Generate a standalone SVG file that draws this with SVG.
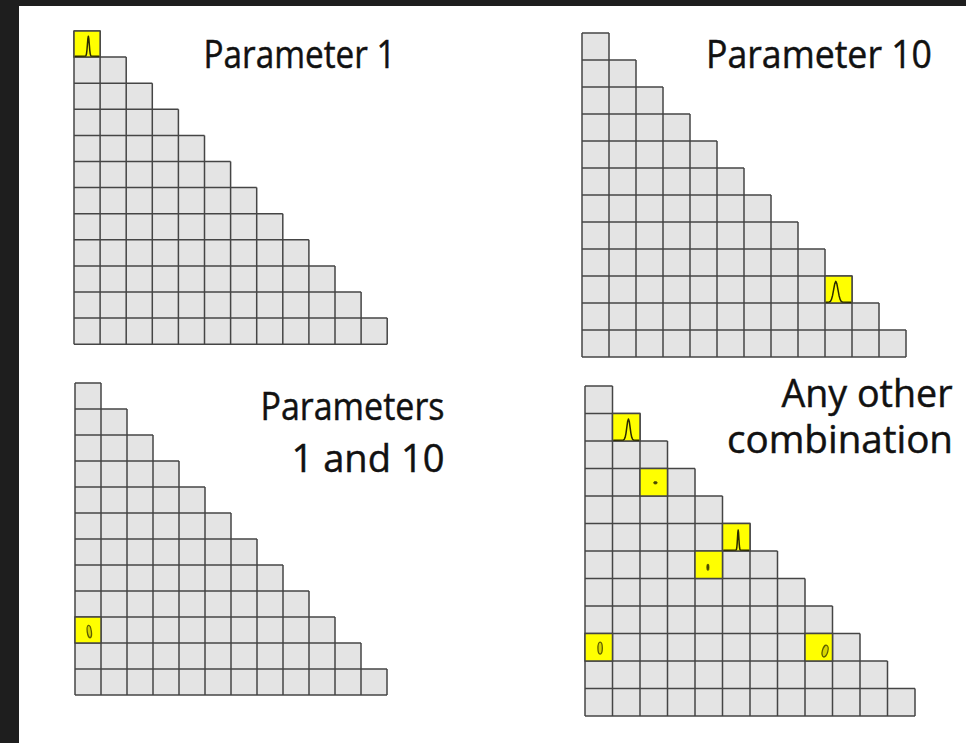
<svg xmlns="http://www.w3.org/2000/svg" xmlns:xlink="http://www.w3.org/1999/xlink" width="966" height="743" viewBox="0 0 966 743">
<style>
.bgdark{fill:#1e1e1e}
.cellfill{fill:#e4e4e4;stroke:none}
.gridline{fill:none;stroke:#454545;stroke-width:1.5;vector-effect:non-scaling-stroke}
.hl{fill:#ffff00;stroke:#454545;stroke-width:1.5;vector-effect:non-scaling-stroke}
.curve{fill:none;stroke:#2a2a00;stroke-width:1.5;stroke-linejoin:round;vector-effect:non-scaling-stroke}
.ell{fill:#d6d600;stroke:#5c5c00;stroke-width:1.3;vector-effect:non-scaling-stroke}
.dot{fill:#4a4a00;stroke:#4a4a00;stroke-width:0.8;vector-effect:non-scaling-stroke}
.lbl{font-family:"Open Sans","Liberation Sans",sans-serif;font-size:37.5px;fill:#111;stroke:#111;stroke-width:0.45px}
</style>
<defs>
<g id="tri">
<polygon class="cellfill" points="0,0 1,0 1,1 2,1 2,2 3,2 3,3 4,3 4,4 5,4 5,5 6,5 6,6 7,6 7,7 8,7 8,8 9,8 9,9 10,9 10,10 11,10 11,11 12,11 12,12 0,12"/>
<path class="gridline" d="M0 0H1M0 1H2M0 2H3M0 3H4M0 4H5M0 5H6M0 6H7M0 7H8M0 8H9M0 9H10M0 10H11M0 11H12M0 12H12M0 0V12M1 0V12M2 1V12M3 2V12M4 3V12M5 4V12M6 5V12M7 6V12M8 7V12M9 8V12M10 9V12M11 10V12M12 11V12"/>
</g>
</defs>
<rect x="0" y="0" width="966" height="743" fill="#ffffff"/>
<rect class="bgdark" x="0" y="0" width="966" height="6"/>
<rect class="bgdark" x="0" y="0" width="19" height="743"/>

<g id="panel-param1">
<g transform="translate(74,31) scale(26.1)">
<use xlink:href="#tri"/>
<rect class="hl" x="0" y="0" width="1" height="1"/>
<polyline class="curve" points="0.03,0.97 0.445,0.961 0.4625,0.936 0.48,0.866 0.4975,0.72 0.515,0.503 0.5325,0.29 0.55,0.2 0.5675,0.29 0.585,0.503 0.6025,0.72 0.62,0.866 0.6375,0.936 0.655,0.961 0.97,0.97"/>
</g>
<text class="lbl" x="203.5" y="67.7" textLength="192" lengthAdjust="spacingAndGlyphs">Parameter 1</text>
</g>

<g id="panel-param10">
<g transform="translate(582,33) scale(27)">
<use xlink:href="#tri"/>
<g transform="translate(9,9)">
<rect class="hl" x="0" y="0" width="1" height="1"/>
<polyline class="curve" points="0.03,0.97 0.16,0.961 0.2,0.936 0.24,0.866 0.28,0.72 0.32,0.503 0.36,0.29 0.4,0.2 0.44,0.29 0.48,0.503 0.52,0.72 0.56,0.866 0.6,0.936 0.64,0.961 0.97,0.97"/>
</g>
</g>
<text class="lbl" x="706" y="67.7" textLength="226" lengthAdjust="spacingAndGlyphs">Parameter 10</text>
</g>

<g id="panel-param1-10">
<g transform="translate(75,383) scale(26)">
<use xlink:href="#tri"/>
<g transform="translate(0,9)">
<rect class="hl" x="0" y="0" width="1" height="1"/>
<ellipse class="ell" cx="0.55" cy="0.56" rx="0.08" ry="0.24" transform="rotate(-8 0.55 0.56)"/>
</g>
</g>
<text class="lbl" x="260.5" y="420" textLength="184" lengthAdjust="spacingAndGlyphs">Parameters</text>
<text class="lbl" x="291.5" y="471.5" textLength="153" lengthAdjust="spacingAndGlyphs">1 and 10</text>
</g>

<g id="panel-other">
<g transform="translate(585,386) scale(27.5)">
<use xlink:href="#tri"/>
<g transform="translate(1,1)">
<rect class="hl" x="0" y="0" width="1" height="1"/>
<polyline class="curve" points="0.03,0.97 0.40,0.961 0.43,0.936 0.46,0.866 0.49,0.72 0.52,0.503 0.55,0.29 0.58,0.2 0.61,0.29 0.64,0.503 0.67,0.72 0.70,0.866 0.73,0.936 0.76,0.961 0.97,0.97"/>
</g>
<g transform="translate(2,3)">
<rect class="hl" x="0" y="0" width="1" height="1"/>
<ellipse class="dot" cx="0.56" cy="0.52" rx="0.065" ry="0.045"/>
</g>
<g transform="translate(5,5)">
<rect class="hl" x="0" y="0" width="1" height="1"/>
<polyline class="curve" points="0.03,0.97 0.495,0.962 0.5075,0.938 0.52,0.871 0.5325,0.733 0.545,0.527 0.5575,0.326 0.57,0.24 0.5825,0.326 0.595,0.527 0.6075,0.733 0.62,0.871 0.6325,0.938 0.645,0.962 0.97,0.97"/>
</g>
<g transform="translate(4,6)">
<rect class="hl" x="0" y="0" width="1" height="1"/>
<ellipse class="dot" cx="0.47" cy="0.59" rx="0.04" ry="0.12"/>
</g>
<g transform="translate(0,9)">
<rect class="hl" x="0" y="0" width="1" height="1"/>
<ellipse class="ell" cx="0.55" cy="0.53" rx="0.08" ry="0.22"/>
</g>
<g transform="translate(8,9)">
<rect class="hl" x="0" y="0" width="1" height="1"/>
<ellipse class="ell" cx="0.73" cy="0.64" rx="0.1" ry="0.22" transform="rotate(15 0.73 0.64)"/>
</g>
</g>
<text class="lbl" x="781.5" y="406.7" textLength="171" lengthAdjust="spacingAndGlyphs">Any other</text>
<text class="lbl" x="727" y="453" textLength="226" lengthAdjust="spacingAndGlyphs">combination</text>
</g>
</svg>
